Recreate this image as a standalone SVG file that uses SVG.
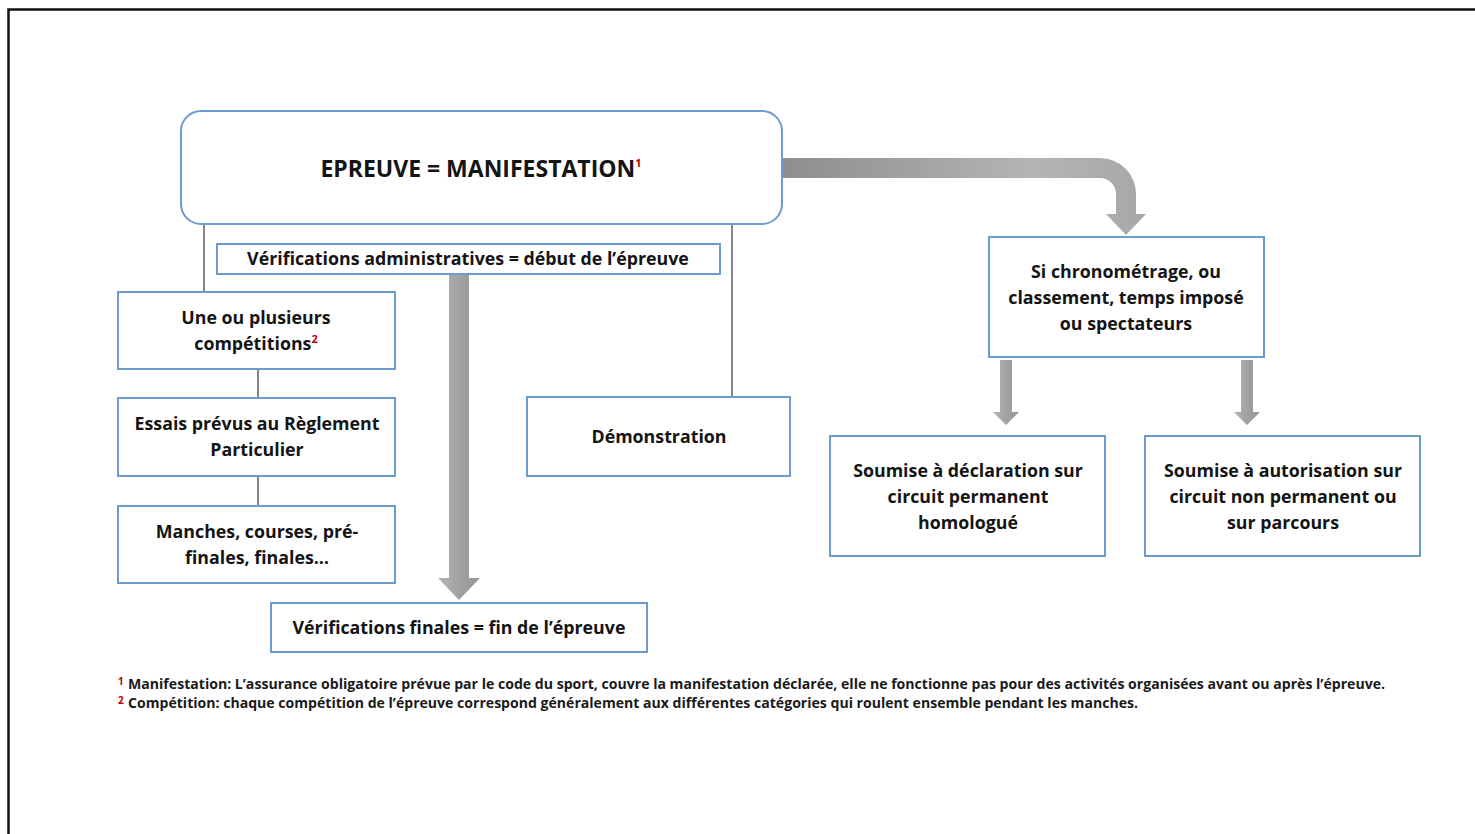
<svg xmlns="http://www.w3.org/2000/svg" width="1475" height="834" viewBox="0 0 1475 834">
<style>
.box{fill:#fff;stroke:#6b9bcf;stroke-width:2}
.t{font-family:"Open Sans","Liberation Sans",sans-serif;font-weight:bold;fill:#141414;text-anchor:middle}
.b{font-size:17.8px}
.sup{fill:#c00000;font-size:11px}
.fn{font-family:"Open Sans","Liberation Sans",sans-serif;font-weight:bold;fill:#1a1a1a;font-size:13.5px}
.fs{font-family:"Open Sans","Liberation Sans",sans-serif;font-weight:bold;fill:#c00000;font-size:10px}
.ln{stroke:#333;stroke-width:1.2;fill:none}
</style>
<defs>
<linearGradient id="gh" gradientUnits="userSpaceOnUse" x1="782" y1="0" x2="1140" y2="0">
<stop offset="0" stop-color="#8e8e8e"/><stop offset="0.7" stop-color="#b4b4b4"/><stop offset="1" stop-color="#a8a8a8"/>
</linearGradient>
<linearGradient id="gv" x1="0" y1="0" x2="1" y2="0">
<stop offset="0" stop-color="#b5b5b5"/><stop offset="0.5" stop-color="#a2a2a2"/><stop offset="1" stop-color="#959595"/>
</linearGradient>
</defs>
<rect width="1475" height="834" fill="#fff"/>
<path d="M8.5,834 V9.5 H1475" fill="none" stroke="#111" stroke-width="2.5"/>

<g id="connectors">
<line class="ln" x1="204" y1="224" x2="204" y2="292"/>
<line class="ln" x1="732" y1="224" x2="732" y2="397"/>
<line class="ln" x1="258" y1="369" x2="258" y2="398"/>
<line class="ln" x1="258" y1="476" x2="258" y2="506"/>
<path d="M782,158 H1100 A36,36 0 0 1 1136,194 V214 H1146 L1126,235 L1106,214 H1116 V194 A16,16 0 0 0 1100,178 H782 Z" fill="url(#gh)"/>
<path d="M449,274 H469 V578 H480 L459,600 L438,578 H449 Z" fill="url(#gv)"/>
<path d="M1000,360 H1012 V412 H1019 L1006,425 L993,412 H1000 Z" fill="url(#gv)"/>
<path d="M1241,360 H1253 V412 H1260 L1247,425 L1234,412 H1241 Z" fill="url(#gv)"/>
</g>

<g id="n-epreuve">
<rect class="box" x="181" y="111" width="601" height="113" rx="20"/>
<text class="t" x="481" y="177" font-size="23">EPREUVE = MANIFESTATION<tspan class="sup" dy="-10" font-size="14">1</tspan></text>
</g>
<g id="n-verif-admin">
<rect class="box" x="217" y="244" width="503" height="30"/>
<text class="t b" x="468" y="265">Vérifications administratives = début de l’épreuve</text>
</g>
<g id="n-competitions">
<rect class="box" x="118" y="292" width="277" height="77"/>
<text class="t b" x="256" y="324">Une ou plusieurs</text>
<text class="t b" x="256" y="350">compétitions<tspan class="sup" dy="-7">2</tspan></text>
</g>
<g id="n-essais">
<rect class="box" x="118" y="398" width="277" height="78"/>
<text class="t b" x="257" y="430">Essais prévus au Règlement</text>
<text class="t b" x="257" y="456">Particulier</text>
</g>
<g id="n-manches">
<rect class="box" x="118" y="506" width="277" height="77"/>
<text class="t b" x="257" y="538">Manches, courses, pré-</text>
<text class="t b" x="257" y="564">finales, finales…</text>
</g>
<g id="n-demonstration">
<rect class="box" x="527" y="397" width="263" height="79"/>
<text class="t b" x="659" y="443">Démonstration</text>
</g>
<g id="n-verif-finales">
<rect class="box" x="271" y="603" width="376" height="49"/>
<text class="t b" x="459" y="634">Vérifications finales = fin de l’épreuve</text>
</g>
<g id="n-si">
<rect class="box" x="989" y="237" width="275" height="120"/>
<text class="t b" x="1126" y="278">Si chronométrage, ou</text>
<text class="t b" x="1126" y="304">classement, temps imposé</text>
<text class="t b" x="1126" y="330">ou spectateurs</text>
</g>
<g id="n-declaration">
<rect class="box" x="830" y="436" width="275" height="120"/>
<text class="t b" x="968" y="477">Soumise à déclaration sur</text>
<text class="t b" x="968" y="503">circuit permanent</text>
<text class="t b" x="968" y="529">homologué</text>
</g>
<g id="n-autorisation">
<rect class="box" x="1145" y="436" width="275" height="120"/>
<text class="t b" x="1283" y="477">Soumise à autorisation sur</text>
<text class="t b" x="1283" y="503">circuit non permanent ou</text>
<text class="t b" x="1283" y="529">sur parcours</text>
</g>

<g id="footnotes">
<text class="fs" x="118" y="685">1</text>
<text class="fn" x="128" y="689" textLength="1257" lengthAdjust="spacingAndGlyphs">Manifestation: L’assurance obligatoire prévue par le code du sport, couvre la manifestation déclarée, elle ne fonctionne pas pour des activités organisées avant ou après l’épreuve.</text>
<text class="fs" x="118" y="704">2</text>
<text class="fn" x="128" y="708" textLength="1010" lengthAdjust="spacingAndGlyphs">Compétition: chaque compétition de l’épreuve correspond généralement aux différentes catégories qui roulent ensemble pendant les manches.</text>
</g>
</svg>
